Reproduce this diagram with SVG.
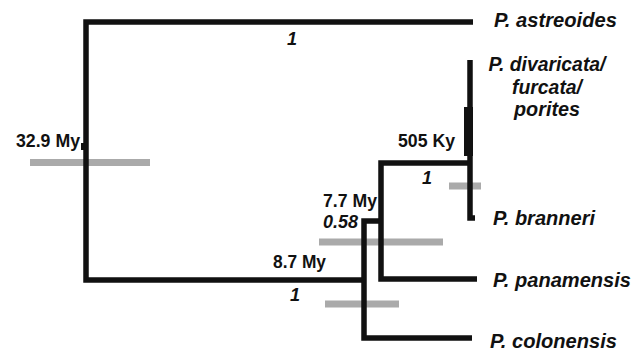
<svg xmlns="http://www.w3.org/2000/svg" width="642" height="353" viewBox="0 0 642 353">
<style>
.br{fill:none;stroke:#111;stroke-width:5.5;stroke-linejoin:miter;stroke-linecap:butt}
.bar{fill:#aaaaaa}
.tx{font-family:"Liberation Sans",Arial,sans-serif;font-weight:bold;font-style:italic;font-size:19.5px;fill:#111}
.lb{font-family:"Liberation Sans",Arial,sans-serif;font-weight:bold;font-size:18px;fill:#111}
.pp{font-family:"Liberation Sans",Arial,sans-serif;font-weight:bold;font-style:italic;font-size:18px;fill:#111}
</style>
<rect width="642" height="353" fill="#fff"/>
<g id="bars">
<rect class="bar" x="30" y="159" width="120" height="7"/>
<rect class="bar" x="319" y="238.5" width="124" height="7"/>
<rect class="bar" x="325" y="300.5" width="74" height="7"/>
<rect class="bar" x="449" y="182.5" width="32" height="7"/>
</g>
<g id="connectors">
<path class="br" d="M473,22 H86 V280 H364"/>
<path class="br" d="M381,221 H364 V338 H472"/>
<path class="br" d="M470,163 H381 V279 H477"/>
<path class="br" d="M470,60 V218 H475"/>
<rect x="464" y="107" width="9" height="49" fill="#111"/>
<rect x="81" y="143" width="4" height="7" fill="#111"/>
</g>
<g id="root-node">
<text class="lb" x="16" y="147" textLength="64" lengthAdjust="spacingAndGlyphs">32.9 My</text>
<text class="pp" x="292" y="45" text-anchor="middle">1</text>
</g>
<g id="node-8-7">
<text class="lb" x="273" y="268" textLength="53" lengthAdjust="spacingAndGlyphs">8.7 My</text>
<text class="pp" x="295" y="301" text-anchor="middle">1</text>
</g>
<g id="node-7-7">
<text class="lb" x="323" y="207" textLength="54" lengthAdjust="spacingAndGlyphs">7.7 My</text>
<text class="pp" x="323" y="228" textLength="35" lengthAdjust="spacingAndGlyphs">0.58</text>
</g>
<g id="node-505">
<text class="lb" x="398" y="147" textLength="57" lengthAdjust="spacingAndGlyphs">505 Ky</text>
<text class="pp" x="427" y="184" text-anchor="middle">1</text>
</g>
<g id="taxon-astreoides">
<text class="tx" x="494" y="27" textLength="123" lengthAdjust="spacingAndGlyphs">P. astreoides</text>
</g>
<g id="taxon-divaricata">
<text class="tx" x="547" y="71" text-anchor="middle" textLength="117" lengthAdjust="spacingAndGlyphs">P. divaricata/</text>
<text class="tx" x="547" y="94" text-anchor="middle" textLength="70" lengthAdjust="spacingAndGlyphs">furcata/</text>
<text class="tx" x="547" y="116" text-anchor="middle" textLength="66" lengthAdjust="spacingAndGlyphs">porites</text>
</g>
<g id="taxon-branneri">
<text class="tx" x="493" y="225" textLength="102" lengthAdjust="spacingAndGlyphs">P. branneri</text>
</g>
<g id="taxon-panamensis">
<text class="tx" x="493" y="287" textLength="138" lengthAdjust="spacingAndGlyphs">P. panamensis</text>
</g>
<g id="taxon-colonensis">
<text class="tx" x="490" y="348" textLength="127" lengthAdjust="spacingAndGlyphs">P. colonensis</text>
</g>
</svg>
